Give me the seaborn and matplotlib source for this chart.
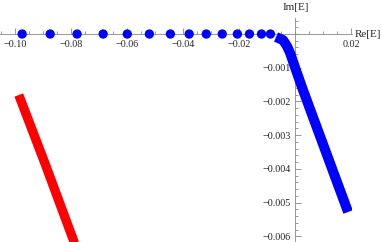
import matplotlib
matplotlib.use("Agg")
import matplotlib.pyplot as plt
import seaborn as sns
import pandas as pd
from matplotlib.ticker import MultipleLocator, FixedLocator

# discrete eigenvalues on the real axis
dots_re = [-0.0975, -0.0875, -0.0779, -0.0686, -0.0600, -0.0521, -0.0446,
           -0.0379, -0.0318, -0.0261, -0.0207, -0.0164, -0.0121, -0.0089]
dots_im = [0.0] * len(dots_re)

# blue continuum branch
blue_re = [-0.0069, -0.0044, -0.0030, -0.0019, 0.0002, 0.0027, 0.0188]
blue_im = [-0.00009, -0.00018, -0.00036, -0.00056, -0.00107, -0.00166, -0.00528]

# red branch
red_re = [-0.0987, -0.0894, -0.0791, -0.0785]
red_im = [-0.00181, -0.00383, -0.00614, -0.00630]

xticks = [-0.10, -0.08, -0.06, -0.04, -0.02, 0.02]
xticklabels = ["\u22120.10", "\u22120.08", "\u22120.06", "\u22120.04", "\u22120.02", "0.02"]
yticks = [-0.001, -0.002, -0.003, -0.004, -0.005, -0.006]
yticklabels = ["\u22120.001", "\u22120.002", "\u22120.003", "\u22120.004", "\u22120.005", "\u22120.006"]

sns.set_style("white")
plt.rcParams['font.family'] = ['Liberation Serif', 'DejaVu Serif']

fig = plt.figure(figsize=(3.82, 2.42), dpi=100)
ax = fig.add_axes([0, 0, 352 / 382, 224 / 242])

dots = pd.DataFrame({"re": dots_re, "im": dots_im})
blue = pd.DataFrame({"re": blue_re, "im": blue_im})
red = pd.DataFrame({"re": red_re, "im": red_im})

sns.lineplot(data=red, x="re", y="im", sort=False, color="#ff0000", lw=6.7,
             solid_capstyle="butt", ax=ax, zorder=3)
sns.lineplot(data=blue, x="re", y="im", sort=False, color="#0000ff", lw=7.2,
             solid_capstyle="butt", solid_joinstyle="round", ax=ax, zorder=3)
sns.scatterplot(data=dots, x="re", y="im", color="#0000ff", s=45, edgecolor="none",
                ax=ax, zorder=4, clip_on=False)

ax.set_xlim(-0.1054, 0.0202)
ax.set_ylim(-0.00617, 0.000475)
ax.set_xlabel("")
ax.set_ylabel("")

for s in ["top", "right"]:
    ax.spines[s].set_visible(False)
for s in ["left", "bottom"]:
    ax.spines[s].set_position(("data", 0))
    ax.spines[s].set_color("#888888")
    ax.spines[s].set_linewidth(0.6)

ax.xaxis.set_major_locator(FixedLocator(xticks))
ax.set_xticklabels(xticklabels)
ax.xaxis.set_minor_locator(MultipleLocator(0.005))
ax.yaxis.set_major_locator(FixedLocator(yticks))
ax.set_yticklabels(yticklabels)
ax.yaxis.set_minor_locator(MultipleLocator(0.0002))
ax.tick_params(which="both", direction="in", color="#888888", width=0.6,
               labelsize=7.3)
ax.tick_params(axis="x", pad=4)
ax.tick_params(axis="y", pad=3.5)
ax.tick_params(which="major", length=4)
ax.tick_params(which="minor", length=2)
ax.xaxis.set_ticks_position("bottom")
ax.yaxis.set_ticks_position("left")

ax.text(1.008, 0.0, "Re[E]", transform=ax.get_yaxis_transform(), fontsize=8,
        ha="left", va="center", clip_on=False)
ax.annotate("Im[E]", xy=(0.0, 1.0), xycoords=ax.get_xaxis_transform(),
            xytext=(0, 4), textcoords="offset points", fontsize=8,
            ha="center", va="bottom", annotation_clip=False)
ax.set_facecolor("white")
fig.patch.set_facecolor("white")

fig.savefig("out.png", dpi=100)
